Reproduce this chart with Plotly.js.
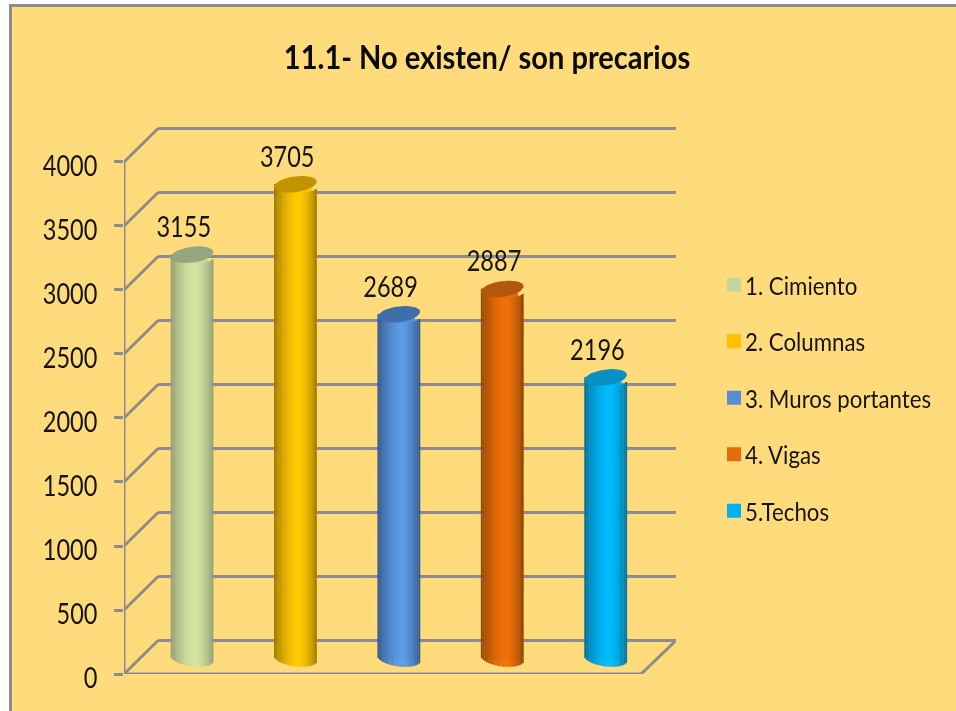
<!DOCTYPE html>
<html><head><meta charset="utf-8">
<script src="https://cdn.plot.ly/plotly-3.0.1.min.js"></script>
<style>html,body{margin:0;padding:0;background:#fff}#chart{width:956px;height:711px;filter:blur(0.45px)}
.legend .legendtext{transform:translateX(-9px)}</style>
</head><body><div id="chart"></div>
<script>
const categories = ["1. Cimiento","2. Columnas","3. Muros portantes","4. Vigas","5.Techos"];
const values = [3155,3705,2689,2887,2196];
const yTicks = [0,500,1000,1500,2000,2500,3000,3500,4000];
const swatch = ["#C3D69B","#FFC000","#558ED5","#E46C0A","#00B0F0"];
const bright = ["#D6E4A2","#FFCB00","#5C9BE6","#F07008","#00BDFF"];
const dark   = ["#8F9F78","#A07A00","#32598A","#8F4506","#07709E"];
const capCol = ["#95A67F","#C29300","#3F6FA8","#B2570C","#0A8FC4"];

const BG="#FFDB7B", LINE="#8C8C8C", INK="#141414", FONT="Lato, 'Open Sans', sans-serif";
const W=956,H=711,mL=124,mR=280,mT=120,mB=37;
const xMax=5.338, yMax=4328;
const depthX=0.329, depthY=262;
const midX=0.158, midY=121;
const R=0.206, ry=62, tilt=20, N=25;

const hex=c=>[1,3,5].map(i=>parseInt(c.substr(i,2),16));
const mix=(a,b,s)=>{const A=hex(a),B=hex(b);return "rgb("+A.map((v,i)=>Math.round(v+(B[i]-v)*s)).join(",")+")";};
const shade=t=>{const c=0.15,d=t<c?(c-t)/(1+c):(t-c)/(1-c);return 1-Math.pow(d,1.7);};
const cx=i=>i+0.5+midX;

const traces=[];
categories.forEach((name,i)=>{
  traces.push({type:"bar",name,x:[cx(i)],y:[values[i]],base:[midY],width:[R*1.4],
    marker:{color:swatch[i],line:{color:swatch[i],width:2}},
    showlegend:true,legendgroup:"g"+i,hoverinfo:"name+y"});
});
for(let k=0;k<N;k++){
  const t=-1+(2*k+1)/N;
  const b=midY-tilt*t-ry*Math.sqrt(Math.max(0,1-t*t));
  traces.push({type:"bar",x:categories.map((_,i)=>cx(i)+t*R),y:values,
    base:categories.map(()=>b),width:categories.map(()=>2*R/N*1.15),
    marker:{color:categories.map((_,i)=>mix(dark[i],bright[i],shade(t))),line:{width:0}},
    showlegend:false,hoverinfo:"skip"});
}
categories.forEach((name,i)=>{
  const xs=[],ys=[];
  for(let a=0;a<=48;a++){const th=a/48*2*Math.PI,t=Math.cos(th);
    xs.push(cx(i)+R*t);ys.push(values[i]+midY+tilt*t+ry*Math.sin(th));}
  traces.push({type:"scatter",mode:"lines",x:xs,y:ys,fill:"toself",fillcolor:capCol[i],
    line:{width:0,color:capCol[i]},showlegend:false,hoverinfo:"skip"});
});
traces.push({type:"scatter",mode:"text",x:categories.map((_,i)=>cx(i)-0.08),
  y:values.map(v=>v+midY+192),text:values.map(String),textposition:"middle center",
  textfont:{family:FONT,size:28,color:INK},showlegend:false,hoverinfo:"skip",cliponaxis:false});

const ln=(x0,y0,x1,y1)=>({type:"line",xref:"x",yref:"y",x0,y0,x1,y1,layer:"below",line:{color:LINE,width:3}});
const shapes=[];
yTicks.forEach(v=>{
  if(v>0) shapes.push(ln(0,v,depthX,v+depthY));
  shapes.push(ln(depthX,v+depthY,xMax,v+depthY));
});
shapes.push(ln(0,0,0,4000),ln(0,0,5,0),ln(0,0,depthX,depthY),ln(5,0,xMax,depthY));
const px=p=>(p-mL)/(W-mL-mR), py=p=>1-(p-mT)/(H-mT-mB);
const rect=(x0,y0,x1,y1,c)=>({type:"rect",xref:"paper",yref:"paper",x0:px(x0),x1:px(x1),y0:py(y0),y1:py(y1),fillcolor:c,line:{width:0},layer:"below"});
shapes.unshift(rect(0,0,W,4,"#FFFFFF"),rect(0,0,9,H,"#FFFFFF"),rect(9,4,W,7,LINE),rect(9,4,12,H,LINE));

const layout={
  width:W,height:H,margin:{l:mL,r:mR,t:mT,b:mB,pad:0,autoexpand:false},autosize:false,
  paper_bgcolor:BG,plot_bgcolor:"rgba(0,0,0,0)",barmode:"overlay",
  font:{family:FONT,color:INK},
  title:{text:"11.1- No existen/ son precarios",x:487/W,xanchor:"center",y:1-57/H,yanchor:"middle",
    font:{family:FONT,size:33,color:"#0A0A0A",weight:700}},
  xaxis:{range:[0,xMax],showgrid:false,zeroline:false,showticklabels:false,ticks:"",showline:false,fixedrange:true},
  yaxis:{range:[0,yMax],tickmode:"array",tickvals:yTicks,ticktext:yTicks.map(String),showgrid:false,zeroline:false,
    showline:false,ticks:"outside",ticklen:9,tickwidth:3,tickcolor:LINE,ticklabelstandoff:11,ticklabelshift:4,
    tickfont:{family:FONT,size:28,color:INK},fixedrange:true},
  legend:{x:(714-mL)/(W-mL-mR),xanchor:"left",y:py(262),yanchor:"top",bgcolor:"rgba(0,0,0,0)",
    font:{family:FONT,size:25,color:INK},tracegroupgap:21,traceorder:"grouped",itemclick:false,itemdoubleclick:false},
  shapes,showlegend:true
};
// the reference's face is narrower than any installed one: condense glyphs, text stays real
const condense=(sel,f)=>document.querySelectorAll(sel).forEach(el=>{
  el.setAttribute("lengthAdjust","spacingAndGlyphs");
  el.setAttribute("textLength",(el.getComputedTextLength()*f).toFixed(1));
});
Plotly.newPlot("chart",traces,layout,{displayModeBar:false,staticPlot:true}).then(()=>{
  condense(".gtitle",0.88);
  condense(".legendtext",0.89);
  condense(".ytick text",0.84);
  condense(".textpoint text",0.84);
});
</script></body></html>
